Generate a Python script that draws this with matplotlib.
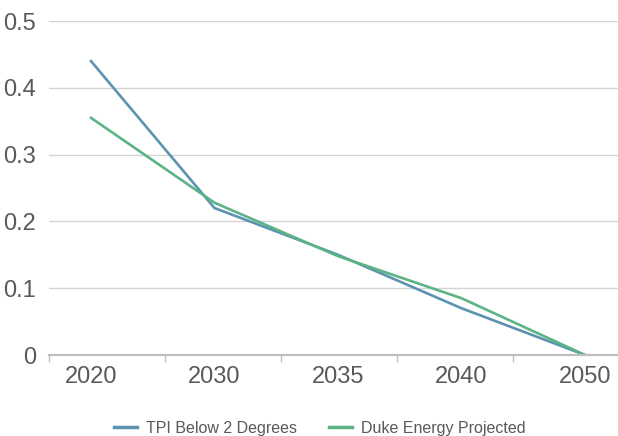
import matplotlib
matplotlib.use("Agg")
import matplotlib.pyplot as plt
from matplotlib.ticker import FixedLocator, FuncFormatter

years = ["2020", "2030", "2035", "2040", "2050"]
tpi_below_2 = [0.44, 0.22, 0.15, 0.07, 0.0]
duke_projected = [0.355, 0.228, 0.148, 0.085, 0.0]
y_ticks = [0, 0.1, 0.2, 0.3, 0.4, 0.5]

BLUE = "#5B93B0"
GREEN = "#5CB486"
TEXT = "#595959"
GRID = "#D4D4D4"
AXIS = "#BFBFBF"

plt.rcParams["font.family"] = ["Liberation Sans", "DejaVu Sans"]

W, H = 618, 436
fig = plt.figure(figsize=(W / 100, H / 100), dpi=100)
left_px, right_px, top_px, bottom_px = 48.5, 618, 21, 355
ax = fig.add_axes([left_px / W, 1 - bottom_px / H,
                   (right_px - left_px) / W, (bottom_px - top_px) / H])

x = list(range(len(years)))
ax.plot(x, tpi_below_2, color=BLUE, lw=1.9, label="TPI Below 2 Degrees",
        solid_joinstyle="miter", zorder=3)
ax.plot(x, duke_projected, color=GREEN, lw=1.9, label="Duke Energy Projected",
        solid_joinstyle="miter", zorder=3)

xmin, xmax = -0.344, 4.267
ax.set_xlim(xmin, xmax)
ax.set_ylim(0, 0.5)

# category labels
ax.set_xticks(x)
ax.set_xticklabels(years)
ax.tick_params(axis="x", which="major", length=0, pad=8, labelsize=17,
               labelcolor=TEXT)
# separator tick marks along the category axis
step = 0.94
seps = [xmin + step * k for k in range(1, 5)]
ax.xaxis.set_minor_locator(FixedLocator([xmin] + seps))
ax.tick_params(axis="x", which="minor", length=5, width=1, color=AXIS)

ax.set_yticks(y_ticks)
ax.yaxis.set_major_formatter(FuncFormatter(lambda v, p: "0" if v == 0 else f"{v:.1f}"))
ax.tick_params(axis="y", length=0, pad=9, labelsize=17, labelcolor=TEXT)
ax.yaxis.grid(True, color=GRID, lw=1)
ax.set_axisbelow(True)

for s in ["top", "right", "left"]:
    ax.spines[s].set_visible(False)
ax.spines["bottom"].set_color(AXIS)
ax.spines["bottom"].set_linewidth(1.6)
ax.spines["bottom"].set_zorder(4)

leg = fig.legend(loc="center", bbox_to_anchor=(320 / W, 1 - 428 / H), ncol=2,
                 frameon=False, handlelength=1.45, handletextpad=0.55,
                 columnspacing=2.0,
                 prop={"family": ["Liberation Sans", "DejaVu Sans"], "size": 11.5})
for t in leg.get_texts():
    t.set_color(TEXT)
for l in leg.get_lines():
    l.set_linewidth(2.5)

fig.savefig("out.png", dpi=100)
